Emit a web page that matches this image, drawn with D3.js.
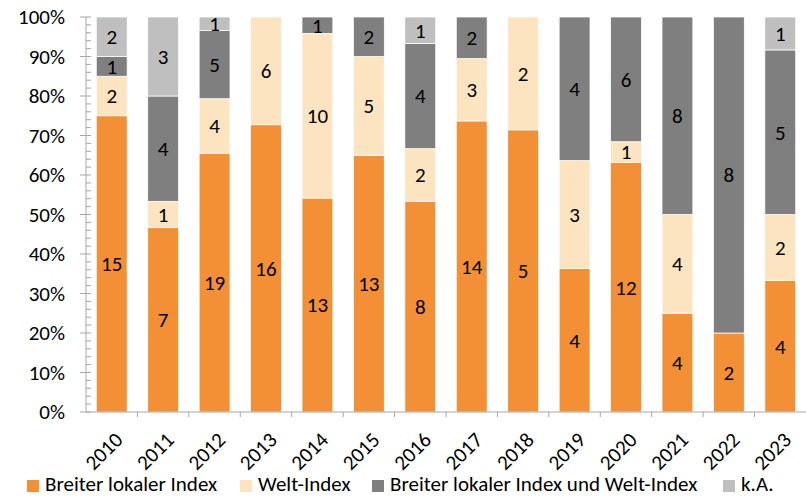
<!DOCTYPE html>
<html>
<head>
<meta charset="utf-8">
<script src="https://cdnjs.cloudflare.com/ajax/libs/d3/7.8.5/d3.min.js"></script>
<style>
  body { margin: 0; background: #fff; }
  text { font-family: Carlito, "Open Sans", "Liberation Sans", sans-serif; fill: #000; }
</style>
</head>
<body>
<script>
var years = ["2010","2011","2012","2013","2014","2015","2016","2017","2018","2019","2020","2021","2022","2023"];
var lokal = [15, 7, 19, 16, 13, 13, 8, 14, 5, 4, 12, 4, 2, 4];
var welt  = [ 2, 1,  4,  6, 10,  5, 2,  3, 2, 3,  1, 4, 0, 2];
var beide = [ 1, 4,  5,  0,  1,  2, 4,  2, 0, 4,  6, 8, 8, 5];
var ka    = [ 2, 3,  1,  0,  0,  0, 1,  0, 0, 0,  0, 0, 0, 1];
var seriesNames = ["Breiter lokaler Index", "Welt-Index", "Breiter lokaler Index und Welt-Index", "k.A."];
var colors = ["#f39035", "#fde4c0", "#7f7f7f", "#bfbfbf"];

var width = 806, height = 497;
var margin = {top: 17, right: 0, bottom: 85, left: 86};
var fs = "21px";

var svg = d3.select("body").append("svg")
    .attr("width", width)
    .attr("height", height);

var rows = years.map(function(y, i) {
  var tot = lokal[i] + welt[i] + beide[i] + ka[i];
  return {year: y, s0: lokal[i] / tot, s1: welt[i] / tot, s2: beide[i] / tot, s3: ka[i] / tot,
          v: [lokal[i], welt[i], beide[i], ka[i]]};
});

var stack = d3.stack().keys(["s0", "s1", "s2", "s3"]);
var layers = stack(rows);

var x = d3.scaleBand()
    .domain(years)
    .range([margin.left, width - margin.right])
    .paddingInner(0.4)
    .paddingOuter(0.2);

var y = d3.scaleLinear()
    .domain([0, 1])
    .range([height - margin.bottom, margin.top]);

// bars
var g = svg.selectAll("g.layer")
  .data(layers)
  .enter().append("g")
    .attr("class", "layer")
    .attr("fill", function(d, i) { return colors[i]; });

g.selectAll("rect")
  .data(function(d) { return d; })
  .enter().append("rect")
    .attr("x", function(d) { return x(d.data.year); })
    .attr("width", x.bandwidth())
    .attr("y", function(d) { return y(d[1]); })
    .attr("height", function(d) { return y(d[0]) - y(d[1]); })
    .attr("stroke", "#fff")
    .attr("stroke-width", 0.75);

// value labels
layers.forEach(function(layer, k) {
  svg.append("g").selectAll("text")
    .data(layer.filter(function(d) { return d.data.v[k] > 0; }))
    .enter().append("text")
      .attr("x", function(d) { return x(d.data.year) + x.bandwidth() / 2; })
      .attr("y", function(d) { return (y(d[0]) + y(d[1])) / 2; })
      .attr("dy", "0.35em")
      .attr("text-anchor", "middle")
      .style("font-size", fs)
      .text(function(d) { return d.data.v[k]; });
});

// y axis
var yAxis = svg.append("g")
    .attr("transform", "translate(" + margin.left + ",0)");
yAxis.append("line")
    .attr("y1", y(0)).attr("y2", y(1))
    .attr("stroke", "#a6a6a6");
yAxis.selectAll("line.minor")
  .data(d3.range(0, 1.0001, 0.02))
  .enter().append("line")
    .attr("class", "minor")
    .attr("x1", 0).attr("x2", 5)
    .attr("y1", function(d) { return y(d); })
    .attr("y2", function(d) { return y(d); })
    .attr("stroke", "#a6a6a6");
yAxis.selectAll("line.major")
  .data(y.ticks(10))
  .enter().append("line")
    .attr("class", "major")
    .attr("x1", -6).attr("x2", 0)
    .attr("y1", function(d) { return y(d); })
    .attr("y2", function(d) { return y(d); })
    .attr("stroke", "#a6a6a6");
yAxis.selectAll("text")
  .data(y.ticks(10))
  .enter().append("text")
    .attr("x", -21)
    .attr("y", function(d) { return y(d); })
    .attr("dy", "0.35em")
    .attr("text-anchor", "end")
    .style("font-size", fs)
    .text(d3.format(".0%"));

// x axis
var xAxis = svg.append("g");
xAxis.append("line")
    .attr("x1", margin.left).attr("x2", width - margin.right)
    .attr("y1", y(0)).attr("y2", y(0))
    .attr("stroke", "#a6a6a6");
xAxis.selectAll("line.tick")
  .data(years.slice(1))
  .enter().append("line")
    .attr("class", "tick")
    .attr("x1", function(d) { return x(d) - x.step() * x.paddingInner() / 2; })
    .attr("x2", function(d) { return x(d) - x.step() * x.paddingInner() / 2; })
    .attr("y1", y(0)).attr("y2", y(0) + 5)
    .attr("stroke", "#a6a6a6");
xAxis.selectAll("text")
  .data(years)
  .enter().append("text")
    .attr("transform", function(d) {
      return "translate(" + (x(d) + x.bandwidth() / 2 + 7) + "," + (y(0) + 24) + ") rotate(-45)";
    })
    .attr("text-anchor", "end")
    .attr("dy", "0.35em")
    .style("font-size", fs)
    .text(function(d) { return d; });

// legend
var legendX = [27, 240, 372, 723];
var legend = svg.selectAll("g.legend")
  .data(seriesNames)
  .enter().append("g")
    .attr("class", "legend")
    .attr("transform", function(d, i) { return "translate(" + legendX[i] + "," + 484 + ")"; });
legend.append("rect")
    .attr("x", 0).attr("y", -4)
    .attr("width", 12).attr("height", 12)
    .attr("fill", function(d, i) { return colors[i]; });
legend.append("text")
    .attr("x", 18)
    .attr("dy", "0.35em")
    .style("font-size", fs)
    .text(function(d) { return d; });
</script>
</body>
</html>
